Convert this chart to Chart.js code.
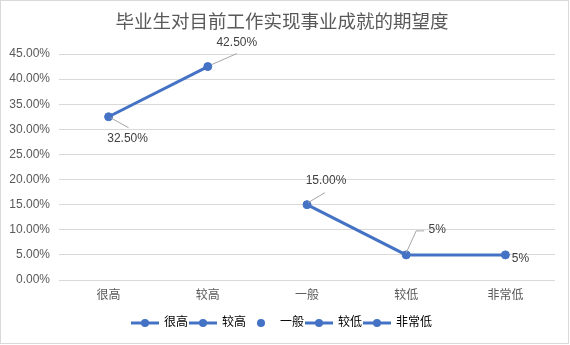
<!DOCTYPE html>
<html>
<head>
<meta charset="utf-8">
<script src="https://cdn.jsdelivr.net/npm/chart.js@4/dist/chart.umd.min.js"></script>
<style>
html,body{margin:0;padding:0;background:#fff;}
canvas{display:block;}
</style>
</head>
<body>
<canvas id="c" width="570" height="345"></canvas>
<script>
// ---- data ----
const titleText = '毕业生对目前工作实现事业成就的期望度';
const categories = ['很高', '较高', '一般', '较低', '非常低'];
const values = [32.5, 42.5, 15, 5, 5];           // percent
const labelDecimals = [2, 2, 2, 0, 0];            // data label number format
const yTickMax = 45;
const yTickStep = 5;

// ---- styles ----
const LINE = '#4472C4';
const FONT = '"Liberation Sans", "Noto Sans CJK SC", sans-serif';
// which segments (leading into point i) are drawn
const segmentShown = [true, true, false, true, true];
// data label placement relative to the point (px), leader line polyline relative to the point
const labelPlacement = [
  {dx: 19, dy: 22, leader: [[2, 1], [20, 11]]},
  {dx: 29, dy: -24, leader: [[4, -2], [29, -13]]},
  {dx: 19, dy: -24, leader: [[1, -2], [18, -12]]},
  {dx: 31, dy: -25, leader: [[0, -2], [10, -24], [18, -24]]},
  {dx: 15, dy: 4, leader: null}
];

function legendIcon(withLine) {
  const c = document.createElement('canvas');
  c.width = 28; c.height = 10;
  const g = c.getContext('2d');
  if (withLine) {
    g.strokeStyle = LINE; g.lineWidth = 3;
    g.beginPath(); g.moveTo(0, 5); g.lineTo(28, 5); g.stroke();
  }
  g.fillStyle = LINE;
  g.beginPath(); g.arc(14, 5, 4, 0, Math.PI * 2); g.fill();
  return c;
}

const bgPlugin = {
  id: 'bg',
  beforeDraw(chart) {
    const ctx = chart.ctx;
    ctx.save();
    ctx.fillStyle = '#fff';
    ctx.fillRect(0, 0, chart.width, chart.height);
    ctx.restore();
  },
  afterDraw(chart) {
    const ctx = chart.ctx;
    ctx.save();
    ctx.strokeStyle = '#d9d9d9';
    ctx.lineWidth = 1;
    ctx.strokeRect(0.5, 0.5, chart.width - 2, chart.height - 2);
    ctx.restore();
  }
};

const labelPlugin = {
  id: 'pointLabels',
  afterDatasetsDraw(chart) {
    const ctx = chart.ctx;
    const meta = chart.getDatasetMeta(0);
    ctx.save();
    meta.data.forEach((pt, i) => {
      const p = labelPlacement[i];
      if (p.leader) {
        ctx.strokeStyle = '#a6a6a6';
        ctx.lineWidth = 1;
        ctx.beginPath();
        p.leader.forEach((q, k) => {
          const x = pt.x + q[0], y = pt.y + q[1];
          if (k === 0) ctx.moveTo(x, y); else ctx.lineTo(x, y);
        });
        ctx.stroke();
      }
      ctx.fillStyle = '#404040';
      ctx.font = '12px ' + FONT;
      ctx.textAlign = 'center';
      ctx.textBaseline = 'middle';
      ctx.fillText(values[i].toFixed(labelDecimals[i]) + '%', pt.x + p.dx, pt.y + p.dy);
    });
    ctx.restore();
  }
};

Chart.defaults.font.family = FONT;
Chart.defaults.color = '#595959';

new Chart(document.getElementById('c'), {
  type: 'line',
  data: {
    labels: categories,
    datasets: [{
      label: '期望度',
      data: values,
      borderColor: LINE,
      backgroundColor: LINE,
      borderWidth: 3,
      pointRadius: 4,
      pointBorderWidth: 1,
      pointBackgroundColor: LINE,
      pointBorderColor: LINE,
      tension: 0,
      segment: {
        borderColor: c => segmentShown[c.p1DataIndex] ? LINE : 'rgba(0,0,0,0)'
      }
    }]
  },
  options: {
    responsive: false,
    devicePixelRatio: 1,
    animation: false,
    layout: {padding: {left: 9, right: 15, top: 0, bottom: 6}},
    plugins: {
      title: {
        display: true,
        text: titleText,
        color: '#595959',
        font: {size: 18.5, weight: 'normal', family: '"Noto Sans CJK SC", sans-serif', lineHeight: 1.2},
        padding: {top: 9.5, bottom: 22.3}
      },
      legend: {
        position: 'bottom',
        labels: {
          usePointStyle: true,
          pointStyleWidth: 26,
          padding: 2,
          color: '#595959',
          font: {size: 12},
          generateLabels: () => categories.map((cat, i) => ({
            text: cat,
            pointStyle: legendIcon(i !== 2),
            fillStyle: LINE,
            strokeStyle: LINE,
            lineWidth: 0,
            hidden: false,
            datasetIndex: 0
          }))
        },
        onClick: () => {}
      },
      tooltip: {enabled: false}
    },
    scales: {
      x: {
        offset: true,
        grid: {display: false, drawTicks: false},
        border: {display: false},
        ticks: {padding: 8, color: '#595959', font: {size: 12}},
        afterFit: s => { s.height = 35; }
      },
      y: {
        min: 0,
        max: yTickMax,
        grid: {color: '#d9d9d9', drawTicks: false, lineWidth: 1},
        border: {display: false},
        ticks: {
          stepSize: yTickStep,
          padding: 9,
          color: '#595959',
          font: {size: 12},
          callback: v => v.toFixed(2) + '%'
        },
        afterFit: s => { s.width = 50; }
      }
    }
  },
  plugins: [bgPlugin, labelPlugin]
});
</script>
</body>
</html>
